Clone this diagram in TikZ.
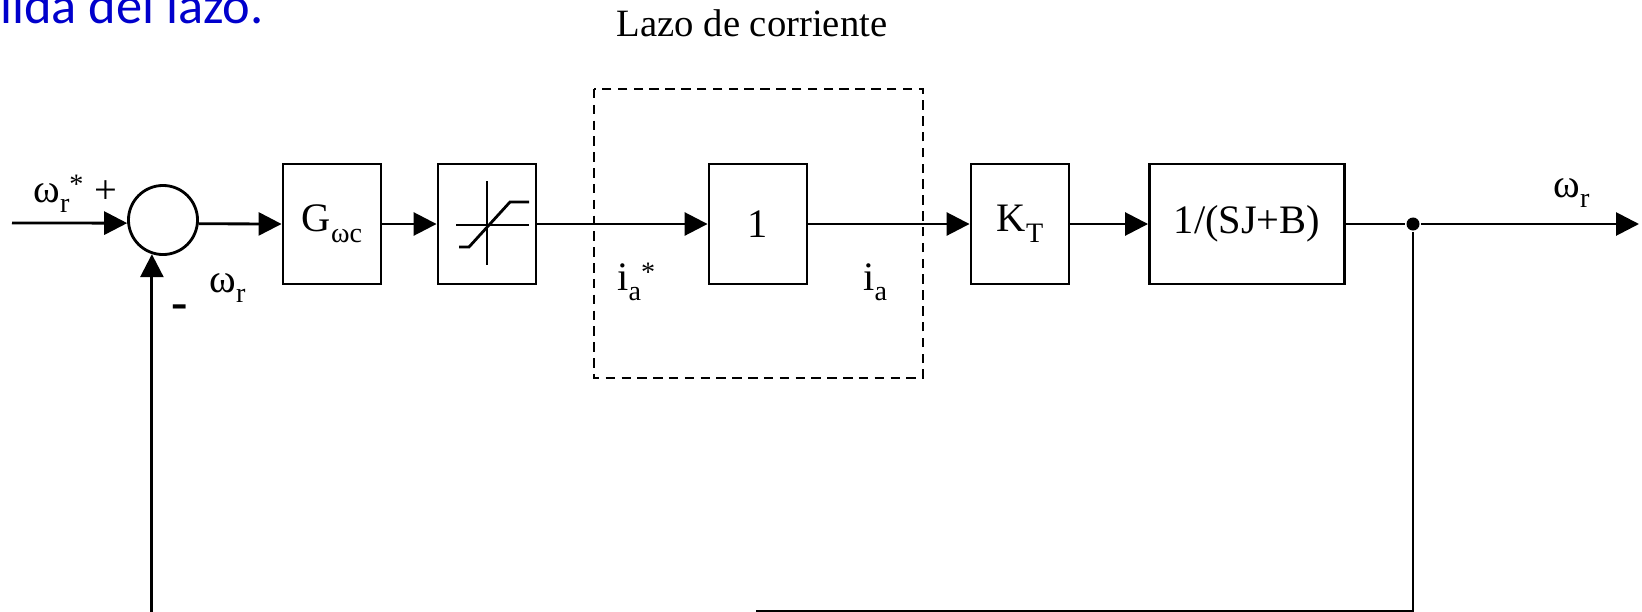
\documentclass[tikz,border=0pt]{standalone}
\usepackage{fontspec}
\setmainfont{Liberation Serif}
\newfontfamily\slidefont{Carlito}
\usetikzlibrary{arrows.meta}
\definecolor{slideblue}{RGB}{0,0,204}
\newcommand{\lowsub}[1]{\raisebox{-3pt}{\fontsize{8}{9}\selectfont #1}}
\newcommand{\highsup}[1]{\raisebox{2.5pt}{\fontsize{8}{9}\selectfont #1}}

\begin{document}
\begin{tikzpicture}[x=0.01cm,y=-0.01cm,line width=0.8pt,
        font=\fontsize{11.5}{13}\selectfont,
        block/.style={draw,minimum width=0.98cm,minimum height=1.2cm,inner sep=0pt},
        sig/.style={-{Triangle[length=2.3mm,width=2.3mm]}}]
    \useasboundingbox (0,0) rectangle (1642,612);
    \node[anchor=base west,inner sep=0pt,text=slideblue,font=\slidefont\fontsize{14.9}{16}\selectfont] (slidetext) at (-1,24) {lida del lazo.};
    \node[anchor=base,font=\fontsize{11}{13}\selectfont] (loopname) at (752,37) {Lazo de corriente};
    \draw[dash pattern=on 2.7pt off 1.8pt] (594,89) rectangle (923,378);
    % blocks
    \node[draw,circle,minimum size=0.69cm,inner sep=0pt] (sum) at (163,220) {};
    \node[block] (gwc) at (332,224) {G\lowsub{ωc}};
    \node[block] (sat) at (487,224) {};
    \node[block] (one) at (758,224) {1};
    \node[block] (kt) at (1020,224) {K\lowsub{T}};
    \node[block,minimum width=1.95cm] (plant) at (1247,224) {1/(SJ+B)};
    \node[circle,fill,inner sep=0pt,minimum size=0.13cm] (jct) at (1413,224) {};
    \coordinate (in) at (12,223);
    \coordinate (out) at (1639,224);
    \coordinate (fbR) at (756,611);
    \coordinate (fbL) at (151,616);
    % saturation
    \begin{scope}[shift={(sat.center)}]
        \draw (0,-43) -- (0,41);
        \draw (-31,1) -- (42,1);
        \draw (-28,23) -- (-18,23) -- (23,-22) -- (42,-22);
    \end{scope}
    % signals
    \draw[sig] (in) -- (sum.185);
    \draw[sig] (sum.-6) -- (gwc.west);
    \draw[sig] (gwc) -- (sat);
    \draw[sig] (sat) -- (one);
    \draw[sig] (one) -- (kt);
    \draw[sig] (kt) -- (plant);
    \draw (plant) -- (jct);
    \draw[sig] (jct) -- (out);
    \draw (jct) |- (fbR);
    \draw[sig] (sum.252 |- fbL) -- (sum.252);
    % labels
    \node[anchor=base west,inner sep=0pt] (wref) at (32,202) {ω\lowsub{r}\highsup{*}};
    \node[inner sep=0pt] (plus) at (106,192) {+};
    \node[anchor=base,inner sep=0pt,font=\fontsize{14}{16}\selectfont] (minus) at (180,318) {\textbf{-}};
    \node[anchor=base west,inner sep=0pt] (wfb) at (208,292) {ω\lowsub{r}};
    \node[anchor=base west,inner sep=0pt] (iref) at (616,290) {i\lowsub{a}\highsup{*}};
    \node[anchor=base west,inner sep=0pt] (ia) at (862,290) {i\lowsub{a}};
    \node[anchor=base west,inner sep=0pt] (wout) at (1552,197) {ω\lowsub{r}};
\end{tikzpicture}
\end{document}
